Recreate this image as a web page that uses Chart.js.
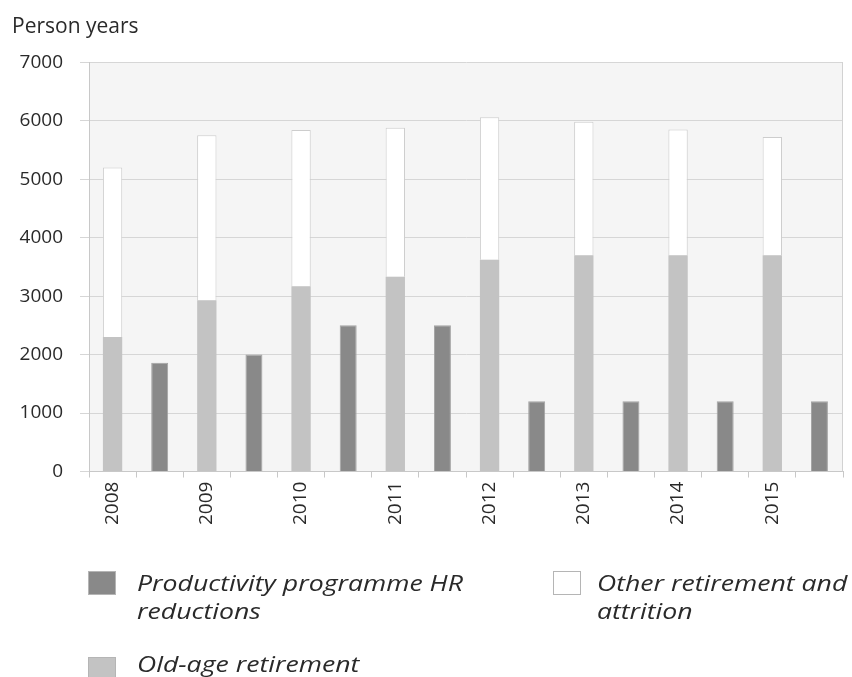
<!DOCTYPE html>
<html><head><meta charset="utf-8">
<script src="https://cdn.jsdelivr.net/npm/chart.js@4/dist/chart.umd.min.js"></script>
<style>
html,body{margin:0;padding:0;background:#fff;}
#wrap{position:relative;width:852px;height:677px;overflow:hidden;}
#c{position:absolute;left:0;top:0;}
.item{position:absolute;}
.box{position:absolute;left:0;width:28px;height:24px;box-sizing:border-box;border:1px solid #b5b5b5;}
.txt{position:absolute;white-space:pre;font-family:'Open Sans',sans-serif;font-style:italic;font-size:22px;line-height:28px;color:#2a2a2a;transform:scaleX(1.21);transform-origin:0 0;}
</style></head>
<body>
<div id="wrap"><canvas id="c" width="852" height="677"></canvas><div id="legend"></div></div>
<script>
const years = ['2008','2009','2010','2011','2012','2013','2014','2015'];
const oldAge = [2300, 2930, 3170, 3330, 3620, 3700, 3700, 3700];
const otherAttrition = [2900, 2820, 2670, 2550, 2440, 2280, 2150, 2020];
const productivity = [1860, 2000, 2500, 2500, 1200, 1200, 1200, 1200];
const seriesNames = ['Productivity programme HR\nreductions', 'Other retirement and\nattrition', 'Old-age retirement'];
const yMin = 0, yMax = 7000, yStep = 1000;
const axisTitle = 'Person years';

// each year: one slot for the stacked bar, one slot for the productivity bar
const slotLabels = years.flatMap(y => [y, '']);
const oldAgeSlots = oldAge.flatMap(v => [v, null]);
const otherSlots = otherAttrition.flatMap(v => [v, null]);
const prodSlots = productivity.flatMap(v => [null, v]);

const bgPlugin = {
  id: 'bg',
  beforeDraw(chart) {
    const {ctx, chartArea: a} = chart;
    ctx.save(); ctx.fillStyle = '#f5f5f5';
    ctx.fillRect(a.left, a.top, a.right - a.left, a.bottom - a.top);
    ctx.restore();
  },
  afterDraw(chart) {
    const {ctx, chartArea: a} = chart;
    ctx.save(); ctx.strokeStyle = '#d2d2d2'; ctx.lineWidth = 1;
    ctx.beginPath(); ctx.moveTo(Math.round(a.right) - 0.5, a.top); ctx.lineTo(Math.round(a.right) - 0.5, a.bottom); ctx.stroke();
    ctx.restore();
  }
};

const chart = new Chart(document.getElementById('c'), {
  type: 'bar',
  data: {
    labels: slotLabels,
    datasets: [
      {label: seriesNames[2].replace('\n', ' '), data: oldAgeSlots, backgroundColor: '#c3c3c3', borderColor: '#c3c3c3', borderWidth: 0, barPercentage: 0.41, categoryPercentage: 1, stack: 's'},
      {label: seriesNames[1].replace('\n', ' '), data: otherSlots, backgroundColor: '#ffffff', borderColor: '#cdcdcd', borderWidth: 1, barPercentage: 0.41, categoryPercentage: 1, stack: 's'},
      {label: seriesNames[0].replace('\n', ' '), data: prodSlots, backgroundColor: '#898989', borderColor: '#a3a3a3', borderWidth: 1, barPercentage: 0.36, categoryPercentage: 1, stack: 's'}
    ]
  },
  options: {
    responsive: false,
    animation: false,
    layout: {padding: {left: 12, right: 9, top: 0, bottom: 148}},
    plugins: {
      legend: {display: false},
      tooltip: {enabled: false},
      title: {display: true, text: axisTitle, align: 'start', color: '#2a2a2a',
        font: {family: "'Open Sans', sans-serif", size: 21, weight: 'normal'},
        padding: {top: 14, bottom: 23}}
    },
    scales: {
      x: {
        stacked: true,
        offset: true,
        afterFit(s) { s.paddingLeft = 0; s.paddingRight = 0; },
        grid: {offset: true, drawOnChartArea: false, drawTicks: true, tickLength: 6, color: '#c8c8c8'},
        border: {color: '#c8c8c8'},
        ticks: {autoSkip: false, maxRotation: 90, minRotation: 90, padding: 4, color: '#2a2a2a',
          font: {family: "'Open Sans', sans-serif", size: 19}}
      },
      y: {
        stacked: true,
        min: yMin, max: yMax,
        afterFit(s) { s.width = 77; },
        grid: {color: '#d6d6d6', tickLength: 9},
        border: {color: '#c8c8c8'},
        ticks: {stepSize: yStep, padding: 17, color: '#2a2a2a', callback: v => String(v),
          font: {family: "'Open Sans', sans-serif", size: 19}}
      }
    }
  },
  plugins: [bgPlugin]
});

// legend built from the datasets
const legendPos = [{left: 88, top: 571, tx: 49, ty: -3}, {left: 553, top: 571, tx: 44, ty: -3}, {left: 88, top: 657, tx: 49, ty: -8}];
const order = [2, 1, 0];
const lg = document.getElementById('legend');
order.forEach((di, k) => {
  const ds = chart.data.datasets[di];
  const p = legendPos[k];
  const it = document.createElement('div'); it.className = 'item';
  it.style.left = p.left + 'px'; it.style.top = p.top + 'px';
  const b = document.createElement('div'); b.className = 'box';
  b.style.background = ds.backgroundColor;
  const t = document.createElement('div'); t.className = 'txt';
  t.style.left = p.tx + 'px'; t.style.top = p.ty + 'px';
  t.textContent = seriesNames[k];
  it.appendChild(b); it.appendChild(t); lg.appendChild(it);
});
</script>
</body></html>
